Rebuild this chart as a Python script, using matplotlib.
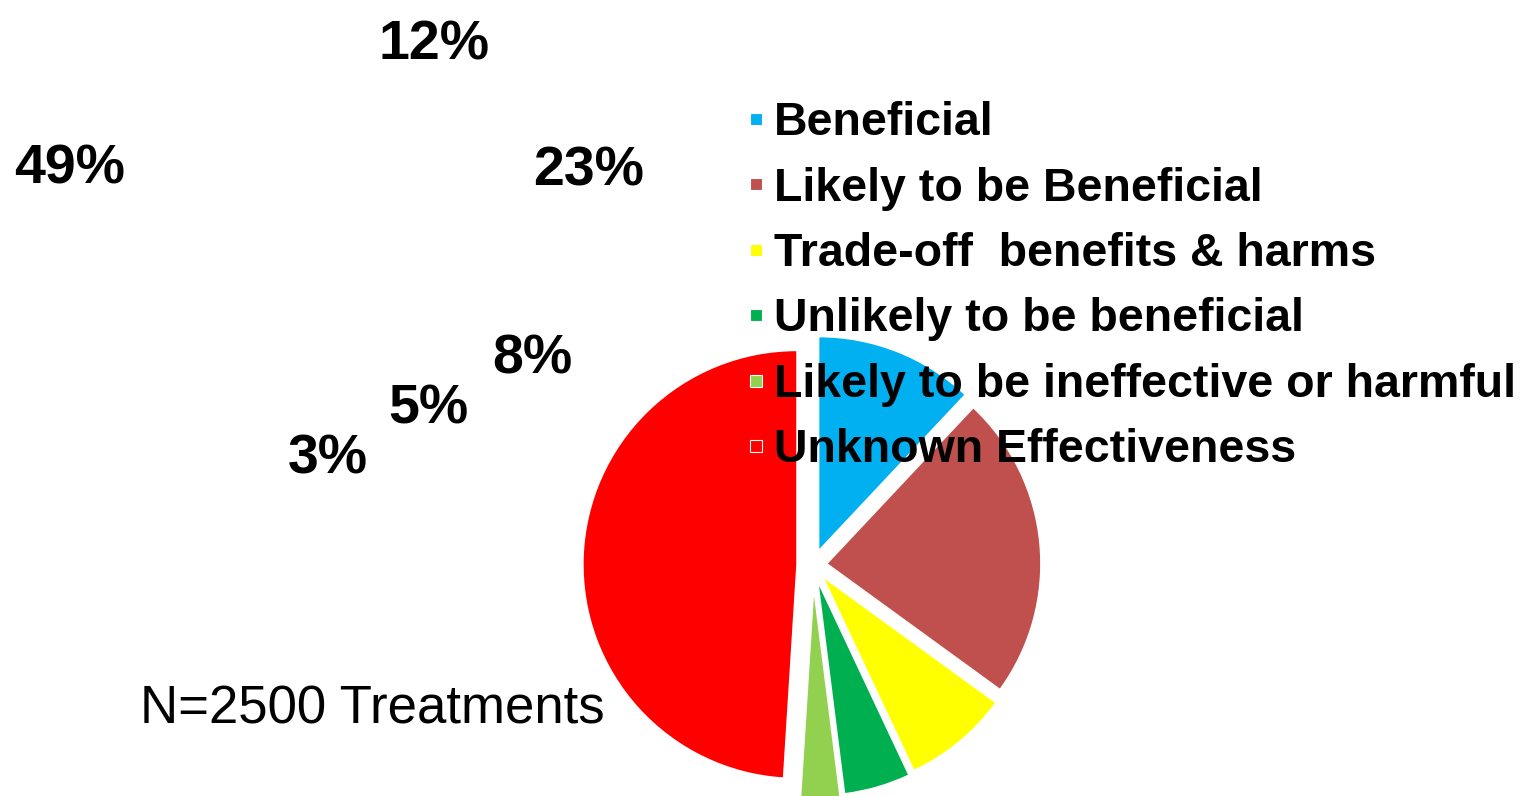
import matplotlib
matplotlib.use("Agg")
import matplotlib.pyplot as plt
from matplotlib.lines import Line2D

# ── Data ───────────────────────────────────────────────────────────────────
categories = [
    "Beneficial",
    "Likely to be Beneficial",
    "Trade-off  benefits & harms",
    "Unlikely to be beneficial",
    "Likely to be ineffective or harmful",
    "Unknown Effectiveness",
]
shares = [12, 23, 8, 5, 3, 49]
colors = ["#00B0F0", "#C0504D", "#FFFF00", "#00B050", "#92D050", "#FF0000"]
explode = [0.072, 0.065, 0.072, 0.08, 0.11, 0.075]   # fraction of radius
note = "N=2500 Treatments"

# percentage labels sit up-left, away from the wedges (pixel coords)
label_pos = [(434, 45), (589, 172), (532, 359), (428, 409), (328, 459), (70, 169)]

FONT = "Liberation Sans"

W, H = 1529, 796
fig = plt.figure(figsize=(W / 100, H / 100), dpi=100)
ax = fig.add_axes([0, 0, 1, 1])

# ── Pie ────────────────────────────────────────────────────────────────────
# axes run in pixels with y pointing down, so startangle=-90 is "up" and
# increasing angle turns clockwise on screen
cx, cy, r = 813, 565, 214
wedges, _ = ax.pie(
    shares, colors=colors, explode=[e * r for e in explode],
    startangle=-90, counterclock=True, radius=r, center=(cx, cy), frame=True,
    wedgeprops=dict(edgecolor="white", linewidth=1),
)
ax.set_xlim(0, W)
ax.set_ylim(H, 0)
ax.set_aspect("auto")
ax.axis("off")

for (x, y), v in zip(label_pos, shares):
    ax.text(x, y, f"{v}%", fontsize=40, fontweight="bold", family=FONT,
            ha="center", va="center")

ax.text(372, 709, note, fontsize=38, family=FONT, ha="center", va="center")

# ── Legend ─────────────────────────────────────────────────────────────────
handles = [Line2D([], [], marker="s", ls="", markersize=9, markerfacecolor=c,
                  markeredgecolor="white", markeredgewidth=0.8) for c in colors]
leg = ax.legend(handles, categories, loc="upper left",
                bbox_to_anchor=(723 / W, 1 - 78 / H), bbox_transform=fig.transFigure,
                frameon=False, handlelength=0.4, handletextpad=0.2,
                labelspacing=0.46, borderpad=0,
                prop=dict(family=FONT, weight="bold", size=33.5))
leg.set_zorder(10)

fig.savefig("out.png", dpi=100)
